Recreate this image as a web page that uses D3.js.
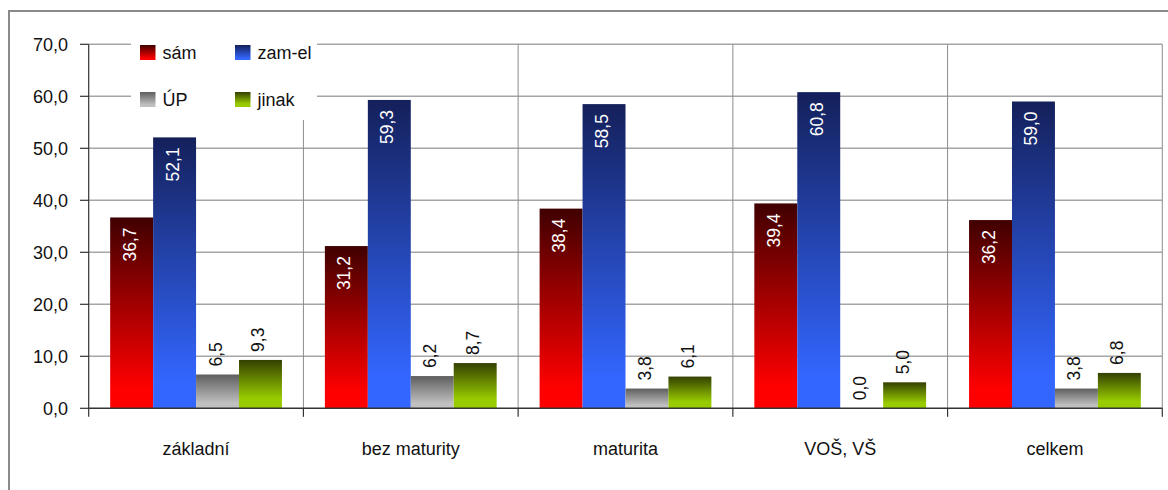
<!DOCTYPE html>
<html>
<head>
<meta charset="utf-8">
<script src="https://cdn.jsdelivr.net/npm/d3@7"></script>
<style>
  html, body { margin: 0; padding: 0; background: #fff; }
  svg text { font-family: "Liberation Sans", Arial, sans-serif; }
</style>
</head>
<body>
<svg id="chart" width="1168" height="490"></svg>
<script>
const categories = ["základní", "bez maturity", "maturita", "VOŠ, VŠ", "celkem"];
const seriesNames = ["sám", "zam-el", "ÚP", "jinak"];
const samValues = [36.7, 31.2, 38.4, 39.4, 36.2];
const zamelValues = [52.1, 59.3, 58.5, 60.8, 59.0];
const upValues = [6.5, 6.2, 3.8, 0.0, 3.8];
const jinakValues = [9.3, 8.7, 6.1, 5.0, 6.8];
const yTicks = [0, 10, 20, 30, 40, 50, 60, 70];

const seriesValues = [samValues, zamelValues, upValues, jinakValues];
// gradient top / bottom colour, where label goes
const seriesStyle = [
  { id: "gSam", top: "#400000", bottom: "#ff0000", edge: 0.9, inside: true },
  { id: "gZam", top: "#14205a", bottom: "#3366ff", edge: 0.9, inside: true },
  { id: "gUp", top: "#5e5e5e", bottom: "#c0c0c0", edge: 0.85, inside: false },
  { id: "gJin", top: "#334000", bottom: "#99cc00", edge: 0.8, inside: false }
];

const fmt = v => d3.format(".1f")(v).replace(".", ",");

const svg = d3.select("#chart");
const defs = svg.append("defs");
seriesStyle.forEach(s => {
  const g = defs.append("linearGradient").attr("id", s.id)
    .attr("x1", 0).attr("y1", 0).attr("x2", 0).attr("y2", 1);
  g.append("stop").attr("offset", 0).attr("stop-color", s.top);
  g.append("stop").attr("offset", s.edge).attr("stop-color", s.bottom);
});

// outer frame
svg.append("rect").attr("x", 9).attr("y", 11).attr("width", 1200).attr("height", 520)
  .attr("fill", "#fff").attr("stroke", "#8a8a8a").attr("stroke-width", 2);

const x = d3.scaleBand().domain(categories).range([88.7, 1162.3]).padding(0);
const xs = d3.scaleBand().domain(seriesNames).range([0, x.bandwidth()])
  .paddingInner(0).paddingOuter(0.5);
const y = d3.scaleLinear().domain([0, 70]).range([408.3, 44.3]);

// horizontal grid
svg.append("g").selectAll("line").data(yTicks.filter(d => d > 0)).join("line")
  .attr("x1", 88.7).attr("x2", 1162.3)
  .attr("y1", d => y(d)).attr("y2", d => y(d))
  .attr("stroke", "#a6a6a6").attr("stroke-width", 1.5);

// vertical grid at category boundaries
const bounds = categories.map(c => x(c) + x.bandwidth());
svg.append("g").selectAll("line").data(bounds).join("line")
  .attr("x1", d => d).attr("x2", d => d)
  .attr("y1", y(70)).attr("y2", y(0))
  .attr("stroke", "#8c8c8c").attr("stroke-width", 1);

// bars
const groups = svg.append("g").selectAll("g").data(categories).join("g")
  .attr("transform", c => `translate(${x(c)},0)`);

seriesNames.forEach((name, si) => {
  const st = seriesStyle[si];
  groups.append("rect")
    .attr("x", xs(name))
    .attr("width", xs.bandwidth())
    .attr("y", (c, i) => y(seriesValues[si][i]))
    .attr("height", (c, i) => y(0) - y(seriesValues[si][i]))
    .attr("fill", `url(#${st.id})`);
});

// axes
svg.append("line").attr("x1", 88.7).attr("x2", 1162.3).attr("y1", y(0)).attr("y2", y(0))
  .attr("stroke", "#333").attr("stroke-width", 1.6);
svg.append("line").attr("x1", 88.7).attr("x2", 88.7).attr("y1", y(70)).attr("y2", y(0) + 8.5)
  .attr("stroke", "#333").attr("stroke-width", 1.2);
svg.append("g").selectAll("line").data(bounds).join("line")
  .attr("x1", d => d).attr("x2", d => d).attr("y1", y(0)).attr("y2", y(0) + 8.5)
  .attr("stroke", "#333").attr("stroke-width", 1.2);
svg.append("g").selectAll("line").data(yTicks).join("line")
  .attr("x1", 80).attr("x2", 88.7).attr("y1", d => y(d)).attr("y2", d => y(d))
  .attr("stroke", "#333").attr("stroke-width", 1.2);

// y tick labels
svg.append("g").selectAll("text").data(yTicks).join("text")
  .attr("x", 68).attr("y", d => y(d) + 6.5)
  .attr("text-anchor", "end").attr("font-size", 18).attr("fill", "#111")
  .text(d => fmt(d));

// category labels
svg.append("g").selectAll("text").data(categories).join("text")
  .attr("x", c => x(c) + x.bandwidth() / 2).attr("y", 455)
  .attr("text-anchor", "middle").attr("font-size", 18).attr("fill", "#111")
  .text(c => c);

// data labels, rotated
seriesNames.forEach((name, si) => {
  const st = seriesStyle[si];
  groups.append("text")
    .attr("transform", (c, i) => {
      const v = seriesValues[si][i];
      const cx = xs(name) + xs.bandwidth() / 2 + 4;
      const ty = st.inside ? y(v) + 10 : y(v) - 8;
      return `translate(${cx},${ty}) rotate(-90)`;
    })
    .attr("text-anchor", st.inside ? "end" : "start")
    .attr("font-size", 17.5)
    .attr("fill", st.inside ? "#fff" : "#111")
    .text((c, i) => fmt(seriesValues[si][i]));
});

// legend
const legend = svg.append("g");
legend.append("rect").attr("x", 131).attr("y", 30).attr("width", 186).attr("height", 90)
  .attr("fill", "#fff");
const legendPos = [[140, 45], [235, 45], [140, 92], [235, 92]];
seriesNames.forEach((name, si) => {
  const [lx, ly] = legendPos[si];
  legend.append("rect").attr("x", lx).attr("y", ly).attr("width", 15.5).attr("height", 15)
    .attr("fill", `url(#${seriesStyle[si].id})`);
  legend.append("text")
    .attr("x", lx + 22.5).attr("y", ly + 13.5)
    .attr("font-size", 18).attr("fill", "#111")
    .text(name);
});
</script>
</body>
</html>
